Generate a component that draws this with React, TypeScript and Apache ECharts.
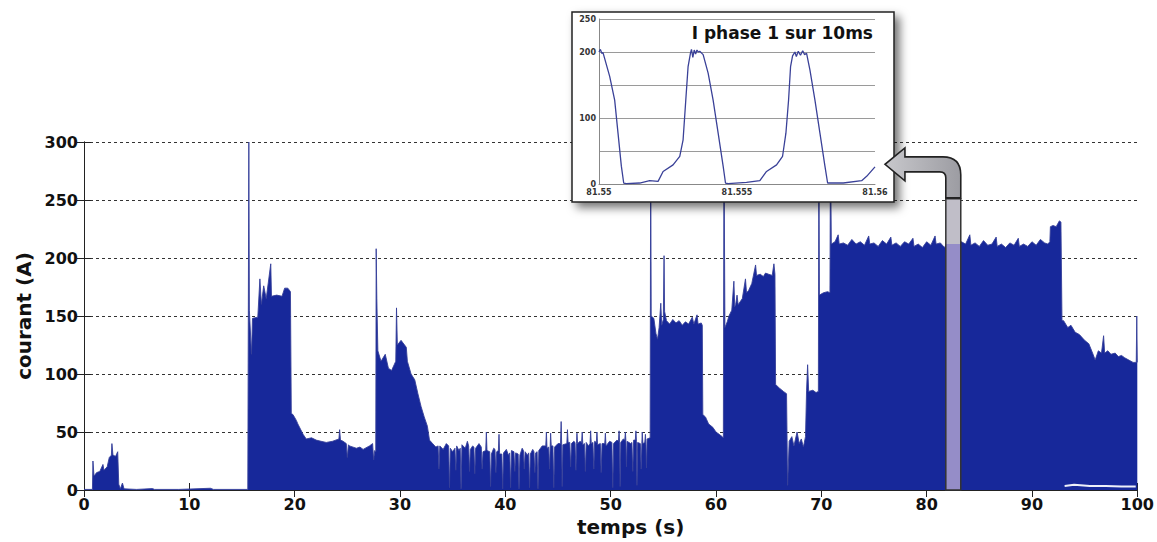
import React, { useEffect, useRef } from 'react';
import * as echarts from 'echarts';

// ---------- main signal: current (A) vs time (s) ----------
const segStartup: number[][] = [
  [0, 0.5], [0.8, 0.5], [0.85, 25], [0.95, 12], [1.2, 15], [1.5, 16], [1.8, 22], [1.9, 17],
  [2.2, 20], [2.4, 28], [2.6, 30], [2.65, 40], [2.75, 30], [3.0, 29], [3.2, 33], [3.3, 5],
  [3.45, 1], [3.65, 6], [3.8, 1], [5.0, 0.5], [6.5, 1.2], [6.7, 0.5], [9.0, 0.5], [12.0, 1.5],
  [12.3, 0.5], [15.55, 0.5],
];
const segBurst1: number[][] = [
  [15.6, 0.5], [15.65, 300], [15.7, 155], [15.9, 117], [16.0, 148], [16.5, 149], [16.7, 182],
  [16.84, 160], [17.06, 176], [17.3, 165], [17.73, 195], [17.8, 167], [18.3, 168], [18.8, 167],
  [19.05, 174], [19.35, 174], [19.6, 171], [19.68, 66],
];
const segPause1: number[][] = [
  [19.84, 65], [20.16, 60], [20.3, 57], [20.8, 48], [21.1, 44], [21.6, 45], [22.05, 43],
  [22.5, 42], [23.0, 41], [23.6, 42], [24.2, 44], [24.27, 52], [24.35, 43], [24.6, 42],
  [24.9, 40], [25.0, 28], [25.1, 39], [25.2, 38], [25.86, 36], [26.2, 37], [26.5, 35],
  [27.1, 38], [27.4, 40], [27.5, 26], [27.6, 34], [27.7, 33],
];
const segBurst2: number[][] = [
  [27.74, 208], [27.8, 165], [27.9, 120], [28.2, 111], [28.6, 117], [28.9, 105], [29.2, 103],
  [29.6, 111], [29.67, 157], [29.75, 125], [30.1, 129], [30.6, 123], [30.7, 111], [31.05, 100],
  [31.4, 95], [31.7, 83], [32.0, 72], [32.3, 63], [32.6, 55], [32.8, 43],
];
const segIdle: number[][] = [
  [33.1, 40], [33.4, 37], [33.62, 38], [33.7, 18], [33.78, 38], [34.1, 35], [34.4, 40], [34.62, 38],
  [34.7, 2], [34.78, 36], [35.0, 33], [35.22, 36], [35.3, 17], [35.38, 38], [35.6, 34], [35.72, 36],
  [35.8, 1], [35.88, 39], [36.2, 36], [36.4, 42], [36.52, 38], [36.6, 16], [36.68, 35], [36.9, 38],
  [37.02, 37], [37.1, 14], [37.18, 36], [37.5, 40], [37.72, 37], [37.8, 18], [37.88, 33], [38.14, 34],
  [38.2, 50], [38.26, 34], [38.52, 33], [38.6, 3], [38.68, 31], [38.9, 36], [39.02, 35], [39.1, 15],
  [39.18, 33], [39.34, 34], [39.4, 48], [39.46, 31], [39.67, 31], [39.75, 1], [39.83, 32], [40.1, 35],
  [40.3, 30], [40.42, 32], [40.5, 2], [40.58, 34], [40.82, 33], [40.9, 16], [40.98, 32], [41.22, 31],
  [41.3, 1], [41.38, 30], [41.6, 36], [41.72, 34], [41.8, 18], [41.88, 33], [42.1, 30], [42.22, 32],
  [42.3, 2], [42.38, 31], [42.6, 35], [42.72, 33], [42.8, 15], [42.88, 32], [43.02, 33], [43.1, 1],
  [43.18, 34], [43.5, 38], [43.84, 38], [43.9, 50], [43.96, 36], [44.12, 37], [44.2, 18], [44.26, 38],
  [44.3, 49], [44.36, 38], [44.52, 38], [44.6, 2], [44.68, 37], [45.0, 40], [45.24, 40], [45.3, 59],
  [45.35, 39], [45.4, 3], [45.46, 39], [45.84, 40], [45.9, 52], [45.96, 41], [46.12, 41], [46.2, 20],
  [46.28, 40], [46.5, 42], [46.62, 41], [46.7, 17], [46.76, 40], [46.8, 49], [46.86, 40], [47.1, 42],
  [47.24, 41], [47.3, 50], [47.36, 39], [47.52, 40], [47.6, 16], [47.68, 41], [47.9, 38], [48.04, 40],
  [48.1, 51], [48.16, 40], [48.32, 41], [48.4, 18], [48.48, 42], [48.64, 41], [48.7, 50], [48.76, 39],
  [49.02, 40], [49.1, 15], [49.18, 40], [49.44, 40], [49.5, 49], [49.56, 38], [49.9, 42], [50.12, 41],
  [50.2, 2], [50.28, 40], [50.6, 43], [50.74, 42], [50.8, 51], [50.85, 41], [50.9, 3], [50.96, 41],
  [51.2, 44], [51.34, 43], [51.4, 50], [51.45, 42], [51.5, 20], [51.56, 42], [51.9, 40], [52.02, 41],
  [52.1, 16], [52.18, 43], [52.34, 43], [52.4, 51], [52.45, 42], [52.5, 4], [52.56, 41], [52.82, 40],
  [52.9, 18], [52.96, 40], [53.0, 50], [53.06, 40], [53.24, 41], [53.3, 48], [53.35, 40], [53.4, 19],
  [53.46, 44], [53.75, 45],
];
const segBurst3: number[][] = [
  [53.8, 300], [53.85, 150], [54.1, 148], [54.3, 135], [54.45, 130], [54.6, 140], [54.76, 161],
  [54.85, 142], [55.0, 147], [55.07, 202], [55.12, 154], [55.3, 146], [55.6, 143], [55.9, 147],
  [56.2, 144], [56.5, 146], [56.8, 142], [57.1, 145], [57.4, 143], [57.75, 149], [57.9, 143],
  [58.2, 151], [58.3, 143], [58.6, 144], [58.7, 142], [58.75, 65], [59.0, 63], [59.3, 57],
  [59.7, 54], [60.0, 50], [60.3, 48], [60.6, 46], [60.7, 45],
];
const segBurst4: number[][] = [
  [60.76, 300], [60.85, 140], [61.07, 145], [61.23, 150], [61.5, 155], [61.7, 180], [61.78, 158],
  [61.87, 160], [62.0, 168], [62.1, 160], [62.2, 161], [62.5, 165], [62.8, 182], [62.9, 170],
  [63.1, 172], [63.4, 178], [63.76, 194], [63.85, 185], [64.2, 186], [64.5, 184], [64.7, 187],
  [65.0, 186], [65.34, 185], [65.5, 195], [65.6, 186], [65.66, 91], [66.0, 88], [66.4, 85],
  [66.7, 83], [66.8, 4], [66.95, 42], [67.2, 46], [67.4, 38], [67.7, 50], [67.9, 40], [68.1, 44],
  [68.3, 37], [68.5, 46],
];
const segBurst5: number[][] = [
  [68.6, 86], [68.7, 108], [68.8, 85], [69.2, 86], [69.5, 84], [69.72, 85], [69.77, 300],
  [69.82, 168], [70.2, 170], [70.6, 171], [70.82, 170], [70.87, 300], [70.95, 212],
];
const segPlateau: number[][] = [
  [71.3, 214], [71.6, 220], [71.7, 212], [72.1, 213], [72.5, 211], [72.9, 216], [73.3, 212],
  [73.7, 214], [74.1, 211], [74.5, 219], [74.6, 212], [75.0, 213], [75.4, 210], [75.8, 215],
  [76.2, 212], [76.6, 218], [76.7, 211], [77.1, 213], [77.5, 210], [77.9, 214], [78.3, 212],
  [78.7, 217], [78.8, 210], [79.2, 212], [79.6, 209], [80.0, 214], [80.4, 211], [80.8, 219],
  [80.9, 212], [81.3, 213], [81.7, 209], [82.1, 216], [82.5, 212], [82.9, 211], [83.3, 214],
  [83.7, 212], [84.1, 220], [84.2, 211], [84.6, 213], [85.0, 210], [85.4, 215], [85.8, 211],
  [86.2, 212], [86.6, 218], [86.7, 210], [87.1, 212], [87.5, 209], [87.9, 213], [88.3, 211],
  [88.7, 217], [88.8, 210], [89.2, 212], [89.6, 210], [90.0, 214], [90.4, 211], [90.8, 216],
  [91.2, 213], [91.5, 212], [91.7, 214], [91.75, 227], [92.0, 228], [92.3, 227], [92.6, 232],
  [92.75, 231],
];
const segTail: number[][] = [
  [92.85, 146], [93.0, 146], [93.4, 140], [93.7, 142], [94.1, 136], [94.5, 134], [95.0, 129],
  [95.4, 126], [95.8, 117], [96.0, 112], [96.3, 120], [96.6, 118], [96.8, 133], [96.9, 118],
  [97.2, 120], [97.5, 117], [97.9, 118], [98.2, 115], [98.5, 116], [98.8, 114], [99.2, 112],
  [99.6, 110], [99.9, 110], [99.95, 150], [100, 110],
];
// lower envelope of the signal after 93 s (thin white gap above zero)
const tailLowerEnvelope: number[][] = [
  [93.1, 3.5], [94.0, 4.5], [95.5, 3.5], [97.0, 3.5], [98.5, 3], [99.85, 3],
];

// ---------- inset: phase-1 current over 10 ms starting at 81.55 s ----------
const insetTimeMs = [
  0, 0.05, 0.1, 0.145, 0.387, 0.568, 0.689, 0.81, 0.895, 0.992, 1.475, 1.838, 2.14, 2.322, 2.684,
  2.926, 3.047, 3.144, 3.228, 3.313, 3.35, 3.4, 3.45, 3.5, 3.55, 3.6, 3.65, 3.773, 3.954, 4.135,
  4.317, 4.498, 4.583, 4.68, 5.345, 5.828, 6.07, 6.433, 6.651, 6.772, 6.868, 6.941, 7.013, 7.1,
  7.15, 7.22, 7.3, 7.38, 7.45, 7.521, 7.642, 7.824, 8.005, 8.186, 8.283, 8.851, 9.516, 9.698, 10,
];
const insetCurrent = [
  200, 204, 198, 199, 163, 127, 77, 27, 1.5, 0.5, 1.5, 5, 4, 19, 29,
  42, 67, 127, 178, 198, 204, 192, 203, 197, 203, 200, 201, 196, 168, 127,
  77, 27, 1.5, 0.5, 2.5, 5, 19, 29, 42, 77, 127, 178, 194, 200,
  193, 201, 195, 202, 196, 198, 173, 127, 77, 27, 1.5, 1.5, 5, 11.6, 26,
];
const insetXTickLabels = ['81.55', '81.555', '81.56'];
const insetYTickLabels = ['0', '', '100', '', '200', '250'];
const insetTitle = 'I phase 1 sur 10ms';

// highlighted time window (s) marked by the bar and arrow
const highlightStart = 81.82;
const highlightEnd = 83.24;
const highlightTop = 251;
const highlightSignalTop = 212;

const ARROW_D =
  'M15 0 L15 -23 Q15 -41 -3 -41 L-41 -41 L-41 -50 L-61 -33.5 L-41 -17 L-41 -26 L-6 -26 Q0 -26 0 -20 L0 0 Z';
echarts.graphic.registerShape('bentArrow', echarts.graphic.extendPath(ARROW_D, {}) as any);

const FONT = 'DejaVu Sans';
const mainData = [
  ...segStartup, ...segBurst1, ...segPause1, ...segBurst2, ...segIdle,
  ...segBurst3, ...segBurst4, ...segBurst5, ...segPlateau, ...segTail,
];
const insetData = insetTimeMs.map((t, i) => [t, insetCurrent[i]]);

const option: any = {
  animation: false,
  backgroundColor: '#ffffff',
  grid: [
    { left: 84, top: 142, right: 17, bottom: 48 },
    { left: 599, top: 19, width: 276, height: 165, z: 11 },
  ],
  xAxis: [
    {
      gridIndex: 0, type: 'value', min: 0, max: 100, interval: 10,
      name: 'temps (s)', nameLocation: 'middle', nameGap: 27,
      nameTextStyle: { fontFamily: FONT, fontWeight: 'bold', fontSize: 20, color: '#111', padding: [0, 0, 0, 40] },
      axisLine: { show: true, lineStyle: { color: '#222', width: 1 } },
      axisTick: { show: true, inside: true, length: 7, lineStyle: { color: '#222' } },
      axisLabel: { fontFamily: FONT, fontWeight: 'bold', fontSize: 16, color: '#111', margin: 6 },
      splitLine: { show: false },
    },
    {
      gridIndex: 1, type: 'value', min: 0, max: 10, interval: 5, z: 11,
      axisLine: { show: true, lineStyle: { color: '#888', width: 1 } },
      axisTick: { show: false },
      axisLabel: {
        fontFamily: FONT, fontWeight: 'bold', fontSize: 8, color: '#333', margin: 4,
        formatter: (v: number) => insetXTickLabels[Math.round(v / 5)] ?? '',
      },
      splitLine: { show: false },
    },
    {
      gridIndex: 0, type: 'value', position: 'top', min: 0, max: 100, interval: 10,
      axisLine: { show: false },
      axisTick: { show: true, inside: true, length: 7, lineStyle: { color: '#222' } },
      axisLabel: { show: false },
      splitLine: { show: false },
    },
  ],
  yAxis: [
    {
      gridIndex: 0, type: 'value', min: 0, max: 300, interval: 50,
      name: 'courant (A)', nameLocation: 'middle', nameGap: 46, nameRotate: 90,
      nameTextStyle: { fontFamily: FONT, fontWeight: 'bold', fontSize: 20, color: '#111' },
      axisLine: { show: true, lineStyle: { color: '#222', width: 1 } },
      axisTick: { show: true, inside: true, length: 7, lineStyle: { color: '#222' } },
      axisLabel: { fontFamily: FONT, fontWeight: 'bold', fontSize: 16, color: '#111', margin: 6 },
      splitLine: { show: true, lineStyle: { color: '#333', width: 1.1, type: [3, 3] } },
    },
    {
      gridIndex: 1, type: 'value', min: 0, max: 250, interval: 50, z: 11,
      axisLine: { show: true, lineStyle: { color: '#888', width: 1 } },
      axisTick: { show: false },
      axisLabel: {
        fontFamily: FONT, fontWeight: 'bold', fontSize: 8, color: '#333', margin: 3,
        formatter: (v: number) => insetYTickLabels[Math.round(v / 50)] ?? '',
      },
      splitLine: { show: true, lineStyle: { color: '#9a9a9a', width: 1 } },
    },
    {
      gridIndex: 0, type: 'value', position: 'right', min: 0, max: 300, interval: 50,
      axisLine: { show: true, lineStyle: { color: '#222', width: 1 } },
      axisTick: { show: true, inside: true, length: 7, lineStyle: { color: '#222' } },
      axisLabel: { show: false },
      splitLine: { show: false },
    },
  ],
  series: [
    {
      type: 'line', xAxisIndex: 0, yAxisIndex: 0, data: mainData, showSymbol: false, z: 2,
      lineStyle: { color: '#35409a', width: 0.9 },
      areaStyle: { color: '#17289a', opacity: 1 },
    },
    {
      type: 'line', xAxisIndex: 0, yAxisIndex: 0, data: tailLowerEnvelope, showSymbol: false, z: 3,
      lineStyle: { color: '#eef0fa', width: 2 },
    },
    {
      type: 'line', xAxisIndex: 1, yAxisIndex: 1, data: insetData, showSymbol: false, z: 12,
      lineStyle: { color: '#3a4198', width: 1.3 },
    },
  ],
};

export default function App() {
  const ref = useRef<HTMLDivElement>(null);
  useEffect(() => {
    const chart = echarts.init(ref.current!, null, { renderer: 'svg' });
    chart.setOption(option);
    const [bx0, byTop] = chart.convertToPixel({ gridIndex: 0 }, [highlightStart, highlightTop]) as number[];
    const [bx1, byBase] = chart.convertToPixel({ gridIndex: 0 }, [highlightEnd, 0]) as number[];
    const [, bySig] = chart.convertToPixel({ gridIndex: 0 }, [highlightStart, highlightSignalTop]) as number[];
    const bw = bx1 - bx0;
    chart.setOption({
      graphic: [
        {
          type: 'rect', z: 10, shape: { x: 572, y: 12, width: 322, height: 190 },
          style: {
            fill: '#ffffff', stroke: '#222', lineWidth: 1.5,
            shadowBlur: 10, shadowOffsetX: 5, shadowOffsetY: 5, shadowColor: 'rgba(0,0,0,0.55)',
          },
        },
        {
          type: 'text', z: 13, x: 873, y: 33,
          style: {
            text: insetTitle, fill: '#111', font: `bold 17px "${FONT}"`,
            textAlign: 'right', textVerticalAlign: 'middle',
          },
        },
        {
          type: 'rect', z: 10, shape: { x: bx0, y: byTop, width: bw, height: bySig - byTop },
          style: { fill: '#c0bec8' },
        },
        {
          type: 'rect', z: 10, shape: { x: bx0, y: bySig, width: bw, height: byBase - bySig },
          style: { fill: '#958dc8' },
        },
        {
          type: 'rect', z: 10, shape: { x: bx0, y: byTop, width: bw, height: byBase - byTop },
          style: { fill: 'none', stroke: '#333', lineWidth: 1.5 },
        },
        {
          type: 'bentArrow', z: 10, x: bx0, y: byTop - 1, scaleX: bw / 15, scaleY: 1,
          style: {
            fill: new echarts.graphic.LinearGradient(0, 0, 1, 0, [
              { offset: 0, color: '#c8c8cc' },
              { offset: 1, color: '#9c9ca2' },
            ]),
            stroke: '#222', lineWidth: 1.6,
          },
        },
      ],
    });
    return () => chart.dispose();
  }, []);
  return (
    <div
      ref={ref}
      style={{ position: 'fixed', left: 0, top: 0, width: 1157, height: 542, background: '#fff' }}
    />
  );
}
